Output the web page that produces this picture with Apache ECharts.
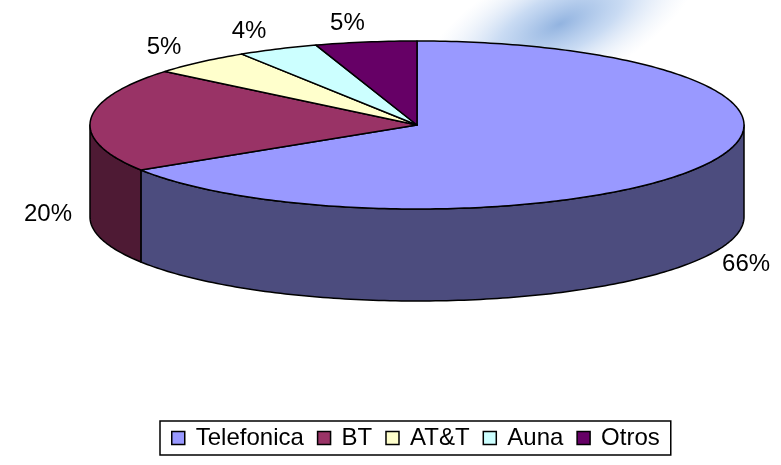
<!DOCTYPE html>
<html>
<head>
<meta charset="utf-8">
<style>
  html, body { margin: 0; padding: 0; background: #fff; }
  #chart { width: 781px; height: 465px; }
</style>
<script src="https://cdn.jsdelivr.net/npm/echarts@6/dist/echarts.min.js"></script>
</head>
<body>
<div id="chart"></div>
<script>
  // datos del grafico
  const names = ['Telefonica', 'BT', 'AT&T', 'Auna', 'Otros']
  const values = [66, 20, 5, 4, 5]
  const topColors = ['#9999FF', '#993366', '#FFFFCC', '#CCFFFF', '#660066']
  const sideColors = ['#4C4C7E', '#4E1A34', '#80806A', '#6A8080', '#330033']

  // geometria del pastel 3D
  const cx = 417, cy = 125, rx = 327, ry = 84, depth = 92
  const total = values.reduce((a, b) => a + b, 0)
  const starts = []
  let acc = 0
  values.forEach(v => { starts.push(acc / total * 360); acc += v })

  function pt(deg, dy) {
    const r = deg * Math.PI / 180
    return [cx + rx * Math.sin(r), cy - ry * Math.cos(r) + dy]
  }
  function arc(a1, a2, dy) {
    const pts = []
    const n = Math.max(2, Math.ceil(Math.abs(a2 - a1)))
    for (let k = 0; k <= n; k++) pts.push(pt(a1 + (a2 - a1) * k / n, dy))
    return pts
  }

  function renderSlice(i) {
    return function(params, api) {
      const a1 = starts[i]
      const a2 = a1 + api.value(0) / total * 360
      const children = []
      // cara superior
      children.push({
        type: 'polygon', z2: 10,
        shape: { points: [[cx, cy]].concat(arc(a1, a2, 0)) },
        style: { fill: topColors[i], stroke: '#000', lineWidth: 1.5, lineJoin: 'round' }
      })
      // lateral visible (mitad frontal 90..270)
      const s = Math.max(a1, 90), e = Math.min(a2, 270)
      if (e > s) {
        children.push({
          type: 'polygon', z2: 1,
          shape: { points: arc(s, e, 0).concat(arc(e, s, depth)) },
          style: { fill: sideColors[i], stroke: '#000', lineWidth: 1.5, lineJoin: 'round' }
        })
      }
      // etiqueta
      const mid = (a1 + a2) / 2 * Math.PI / 180
      const c = Math.cos(mid)
      const lx = cx + (rx + 42) * Math.sin(mid) - 12 * c
      const ly = c < 0.3 ? cy - (ry + 8) * c + depth + 3 : cy - (ry + 19) * c
      children.push({
        type: 'text', z2: 20,
        style: {
          text: Math.round(api.value(0) / total * 100) + '%',
          x: lx, y: ly, align: 'center', verticalAlign: 'middle',
          font: '24px "Liberation Sans", Arial, sans-serif', fill: '#000'
        }
      })
      return { type: 'group', children: children }
    }
  }

  const chart = echarts.init(document.getElementById('chart'))
  chart.setOption({
    animation: false,
    backgroundColor: '#fff',
    color: topColors,
    graphic: [{
      type: 'circle', silent: true, z: -10,
      x: 560, y: 24, rotation: 0.45, scaleY: 0.42,
      shape: { cx: 0, cy: 0, r: 150 },
      style: {
        fill: new echarts.graphic.RadialGradient(0.5, 0.5, 0.5, [
          { offset: 0, color: 'rgba(140,175,222,0.95)' },
          { offset: 0.45, color: 'rgba(165,195,235,0.6)' },
          { offset: 1, color: 'rgba(215,226,244,0)' }
        ])
      }
    }],
    legend: {
      data: names,
      left: 160,
      top: 421,
      icon: 'rect',
      itemWidth: 13,
      itemHeight: 13,
      itemGap: 13,
      padding: [5, 11],
      backgroundColor: '#fff',
      borderColor: '#000',
      borderWidth: 1.5,
      borderRadius: 0,
      selectedMode: false,
      itemStyle: { borderColor: '#000', borderWidth: 1.5 },
      textStyle: {
        fontFamily: '"Liberation Sans", Arial, sans-serif',
        fontSize: 24,
        color: '#000',
        padding: [0, 0, 0, 6]
      }
    },
    series: names.map((name, i) => ({
      type: 'custom',
      name: name,
      coordinateSystem: 'none',
      itemStyle: { color: topColors[i] },
      silent: true,
      renderItem: renderSlice(i),
      data: [[values[i]]]
    }))
  })
</script>
</body>
</html>
